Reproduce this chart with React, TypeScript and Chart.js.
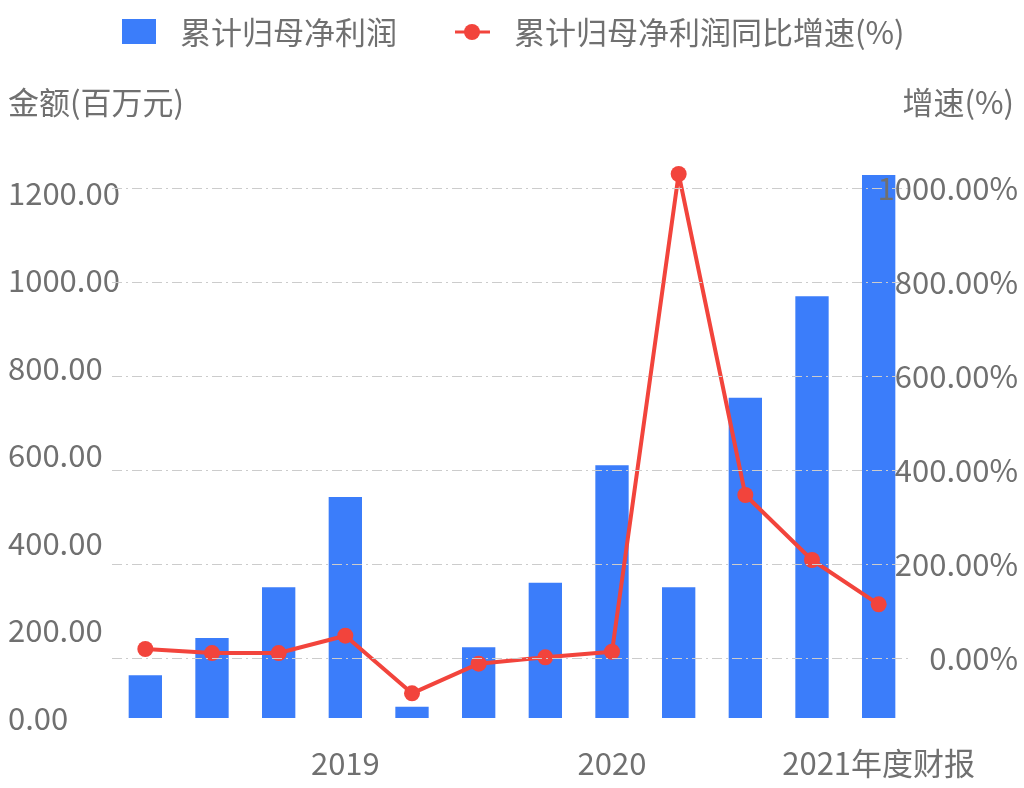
import React, { useEffect, useRef } from "react";
import { Chart, registerables } from "chart.js";

Chart.register(...registerables);

const categories = ["2019Q1", "2019H1", "2019Q3", "2019", "2020Q1", "2020H1", "2020Q3", "2020", "2021Q1", "2021H1", "2021Q3", "2021"];
const xTickLabels = ["", "", "", "2019", "", "", "", "2020", "", "", "", "2021年度财报"];
const profitValues = [98, 183, 299, 505, 26, 162, 309, 578, 299, 732, 964, 1241];
const growthValues = [19.2, 10.6, 10.6, 47.5, -75.2, -12.1, 1.5, 13.4, 1030.4, 347, 208.6, 114.3];
const leftTicks = [0, 200, 400, 600, 800, 1000, 1200];
const rightTicks = [0, 200, 400, 600, 800, 1000];
const seriesNames = ["累计归母净利润", "累计归母净利润同比增速(%)"];
const axisTitles = ["金额(百万元)", "增速(%)"];

const FONT = '"Noto Sans CJK SC", "Noto Sans", sans-serif';
const BLUE = "#3b7dfa";
const RED = "#f2443c";
const TEXT = "#707070";

const overlayPlugin = {
  id: "overlay",
  afterLayout(chart: any) {
    // widen the label clip areas so long tick labels can overlap the plot like the reference
    const y = chart.scales.y;
    const y1 = chart.scales.y1;
    if (y) y.right = y.right + 60;
    if (y1) y1.left = y1.left - 80;
  },
  afterDraw(chart: any) {
    const ctx = chart.ctx;
    ctx.save();
    ctx.textBaseline = "middle";
    ctx.font = `31px ${FONT}`;
    ctx.fillStyle = BLUE;
    ctx.fillRect(122, 19, 34, 25);
    ctx.fillStyle = TEXT;
    ctx.textAlign = "left";
    ctx.fillText(seriesNames[0], 180, 32);
    ctx.strokeStyle = RED;
    ctx.lineWidth = 3;
    ctx.beginPath();
    ctx.moveTo(455, 32);
    ctx.lineTo(490, 32);
    ctx.stroke();
    ctx.fillStyle = RED;
    ctx.beginPath();
    ctx.arc(472, 32, 8, 0, Math.PI * 2);
    ctx.fill();
    ctx.fillStyle = TEXT;
    ctx.fillText(seriesNames[1], 514, 32);
    ctx.font = `31px ${FONT}`;
    ctx.fillText(axisTitles[0], 8, 102);
    ctx.textAlign = "right";
    ctx.fillText(axisTitles[1], 1014, 102);
    ctx.restore();
  },
};

export default function App() {
  const ref = useRef<HTMLCanvasElement>(null);
  useEffect(() => {
    if (!ref.current) return;
    const chart = new Chart(ref.current, {
      type: "bar",
      data: {
        labels: categories,
        datasets: [
          {
            type: "line",
            label: seriesNames[1],
            data: growthValues,
            yAxisID: "y1",
            borderColor: RED,
            backgroundColor: RED,
            borderWidth: 4,
            borderJoinStyle: "round",
            pointRadius: 8,
            pointBackgroundColor: RED,
            pointBorderWidth: 0,
            tension: 0,
            order: 0,
          } as any,
          {
            type: "bar",
            label: seriesNames[0],
            data: profitValues,
            yAxisID: "y",
            backgroundColor: BLUE,
            barPercentage: 0.5,
            categoryPercentage: 1,
            order: 1,
          },
        ],
      },
      options: {
        responsive: false,
        animation: false,
        devicePixelRatio: 1,
        layout: { padding: { top: 150, left: 8, right: 6, bottom: 0 } },
        plugins: { legend: { display: false }, tooltip: { enabled: false } },
        scales: {
          x: {
            grid: { display: false, drawTicks: false },
            border: { display: false },
            ticks: {
              autoSkip: false,
              maxRotation: 0,
              padding: 27,
              color: TEXT,
              font: { family: FONT, size: 31 },
              callback: (_v: any, i: number) => xTickLabels[i],
            },
            afterFit: (s: any) => { s.height = 70; },
          },
          y: {
            position: "left",
            min: 0,
            max: 1298.3,
            grid: { display: false, drawTicks: false },
            border: { display: false },
            afterBuildTicks: (s: any) => { s.ticks = leftTicks.map((v) => ({ value: v })); },
            ticks: {
              crossAlign: "far",
              color: TEXT,
              font: { family: FONT, size: 31 },
              callback: (v: any) => Number(v).toFixed(2),
            },
            afterFit: (s: any) => { s.width = 104; },
          },
          y1: {
            position: "right",
            min: -127.7,
            max: 1081.5,
            grid: {
              color: "#cccccc",
              lineWidth: 1,
              drawTicks: false,
              z: 1,
            },
            border: { display: false, dash: [10, 4, 2, 4] },
            afterBuildTicks: (s: any) => { s.ticks = rightTicks.map((v) => ({ value: v })); },
            ticks: {
              crossAlign: "far",
              color: TEXT,
              z: 1,
              font: { family: FONT, size: 31 },
              callback: (v: any) => Number(v).toFixed(2) + "%",
            },
            afterFit: (s: any) => { s.width = 106; },
          },
        },
      } as any,
      plugins: [overlayPlugin],
    });
    return () => chart.destroy();
  }, []);
  return (
    <div style={{ position: "absolute", left: 0, top: 0, width: 1024, height: 788, background: "#fff" }}>
      <canvas ref={ref} width={1024} height={788} style={{ width: 1024, height: 788 }} />
    </div>
  );
}
